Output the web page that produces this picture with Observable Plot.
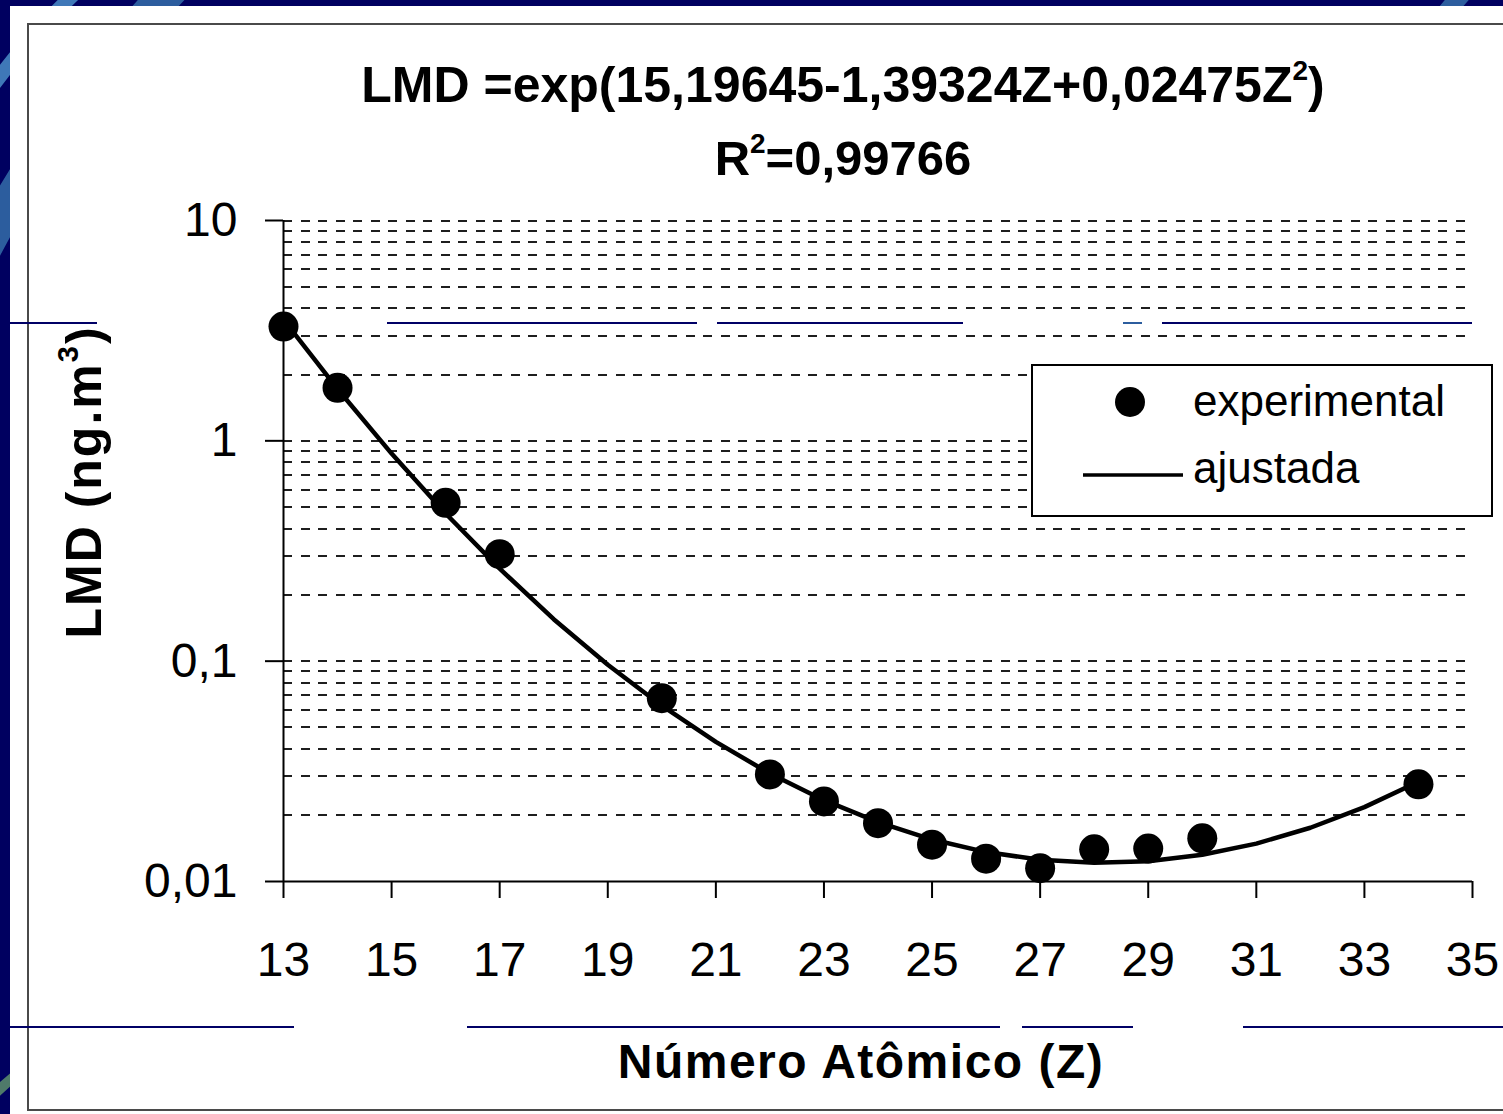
<!DOCTYPE html>
<html>
<head>
<meta charset="utf-8">
<script src="https://cdn.jsdelivr.net/npm/d3@7"></script>
<script src="https://cdn.jsdelivr.net/npm/@observablehq/plot@0.6"></script>
<style>
  html, body { margin: 0; padding: 0; }
  body { width: 1503px; height: 1114px; overflow: hidden; background: #000060; font-family: "Liberation Sans", Arial, sans-serif; }
  #wrap { position: relative; width: 1503px; height: 1114px; }
  .abs { position: absolute; }
  #panel { left: 10px; top: 6px; right: 0; bottom: 0; background: #fff; }
  #frame { left: 27px; top: 23px; width: 1500px; height: 1084px; border: 2px solid #4a4a4a; box-sizing: content-box; }
  .nl { position: absolute; height: 2px; background: #000066; }
  .title { white-space: nowrap; font-weight: bold; line-height: 1; color: #000; transform: translateX(-50%); }
  sup { line-height: 0; }
  #plot { left: 0; top: 0; }
  #legend { left: 1031px; top: 364px; width: 458px; height: 149px; border: 2px solid #000; background: #fff; }
</style>
</head>
<body>
<div id="wrap">
  <svg class="abs" style="left:0;top:0" width="1503" height="1114">
    <path d="M -40 300 Q 40 120 190 -30" fill="none" stroke="#2c5d9e" stroke-width="34"/>
    <path d="M -30 120 Q 20 40 90 -20" fill="none" stroke="#3f78b8" stroke-width="14"/>
    <path d="M 1440 20 Q 1460 -5 1480 -25" fill="none" stroke="#2c5d9e" stroke-width="18"/>
    <path d="M -20 1110 Q 10 1075 40 1060" fill="none" stroke="#4f7a6a" stroke-width="10"/>
  </svg>
  <div id="panel" class="abs"></div>
  <div id="frame" class="abs"></div>

  <div class="nl" style="left:10px;top:322px;width:87px"></div>
  <div class="nl" style="left:387px;top:322px;width:310px"></div>
  <div class="nl" style="left:717px;top:322px;width:246px"></div>
  <div class="nl" style="left:1123px;top:322px;width:19px;background:#2c5d9e"></div>
  <div class="nl" style="left:1162px;top:322px;width:310px"></div>
  <div class="nl" style="left:10px;top:1026px;width:284px"></div>
  <div class="nl" style="left:467px;top:1026px;width:533px"></div>
  <div class="nl" style="left:1022px;top:1026px;width:111px"></div>
  <div class="nl" style="left:1243px;top:1026px;width:260px"></div>

  <div class="abs title" style="left:843px;top:60px;font-size:50px">LMD =exp(15,19645-1,39324Z+0,02475Z<sup style="font-size:28px;vertical-align:22px">2</sup>)</div>
  <div class="abs title" style="left:843px;top:134px;font-size:49px">R<sup style="font-size:28px;vertical-align:22px">2</sup>=0,99766</div>

  <div class="abs" style="left:84px;top:482px;font-size:50px;letter-spacing:2px;font-weight:bold;line-height:1;white-space:nowrap;transform:translate(-50%,-50%) rotate(-90deg)">LMD (ng.m<sup style="font-size:29px;vertical-align:23px">3</sup>)</div>

  <div class="abs title" style="left:861px;top:1038px;font-size:48px;letter-spacing:1.5px">Número Atômico (Z)</div>

  <div id="plot" class="abs"></div>

  <div id="legend" class="abs">
    <svg width="458" height="149" style="display:block">
      <circle cx="97" cy="36" r="15" fill="#000"/>
      <text x="160" y="50" font-size="44" font-family="Liberation Sans, Arial, sans-serif">experimental</text>
      <line x1="50" x2="150" y1="109" y2="109" stroke="#000" stroke-width="3.5"/>
      <text x="160" y="117" font-size="44" font-family="Liberation Sans, Arial, sans-serif">ajustada</text>
    </svg>
  </div>
</div>
<script>
// Experimental points
const zExp = [13, 14, 16, 17, 20, 22, 23, 24, 25, 26, 27, 28, 29, 30, 34];
const lmdExp = [3.30, 1.74, 0.523, 0.306, 0.0679, 0.0306, 0.0231, 0.0184, 0.0147, 0.0127, 0.0115, 0.0140, 0.0141, 0.0157, 0.0276];

// Fitted curve (ajustada)
const zFit = [13, 14, 15, 16, 17, 18, 19, 20, 21, 22, 23, 24, 25, 26, 27, 28, 29, 30, 31, 32, 33, 34];
const lmdFit = [3.55, 1.72, 0.875, 0.468, 0.263, 0.155, 0.0963, 0.0628, 0.0430, 0.0309, 0.0234, 0.0186, 0.0155, 0.0136, 0.01255, 0.01215, 0.01237, 0.01323, 0.01486, 0.01754, 0.02176, 0.02836];

// Axis ticks
const xTicks = [13, 15, 17, 19, 21, 23, 25, 27, 29, 31, 33, 35];
const yTicks = [0.01, 0.1, 1, 10];
const gridDecades = [0.01, 0.1, 1];
const gridMultiples = [2, 3, 4, 5, 6, 7, 8, 9, 10];

const gridVals = gridDecades.flatMap(d => gridMultiples.map(m => +(d * m).toPrecision(3)));
const expData = zExp.map((z, i) => ({z, v: lmdExp[i]}));
const fitData = zFit.map((z, i) => ({z, v: lmdFit[i]}));
const fmt = d => String(d).replace(".", ",");

const chart = Plot.plot({
  width: 1503,
  height: 1114,
  marginLeft: 283,
  marginRight: 31,
  marginTop: 220,
  marginBottom: 233,
  style: {background: "transparent", fontFamily: "Liberation Sans, Arial, sans-serif", color: "#000", overflow: "visible"},
  x: {domain: [13, 35]},
  y: {type: "log", domain: [0.01, 10]},
  marks: [
    Plot.ruleY(gridVals, {x1: 13, x2: 35, stroke: "#1e1e1e", strokeWidth: 2, strokeDasharray: "9,8.5", shapeRendering: "crispEdges"}),
    Plot.axisY({ticks: yTicks, tickFormat: fmt, tickSize: 18, tickPadding: 28, fontSize: 48, label: null, strokeWidth: 2}),
    Plot.axisX({ticks: xTicks, tickFormat: d => String(d), tickSize: 17, tickPadding: 43, fontSize: 48, label: null, strokeWidth: 2}),
    Plot.ruleX([13], {y1: 0.01, y2: 10, stroke: "#000", strokeWidth: 2}),
    Plot.ruleY([0.01], {x1: 13, x2: 35, stroke: "#000", strokeWidth: 2}),
    Plot.line(fitData, {x: "z", y: "v", stroke: "#000", strokeWidth: 4.5}),
    Plot.dot(expData, {x: "z", y: "v", r: 15, fill: "#000", stroke: "none"})
  ]
});
document.getElementById("plot").appendChild(chart);
</script>
</body>
</html>
